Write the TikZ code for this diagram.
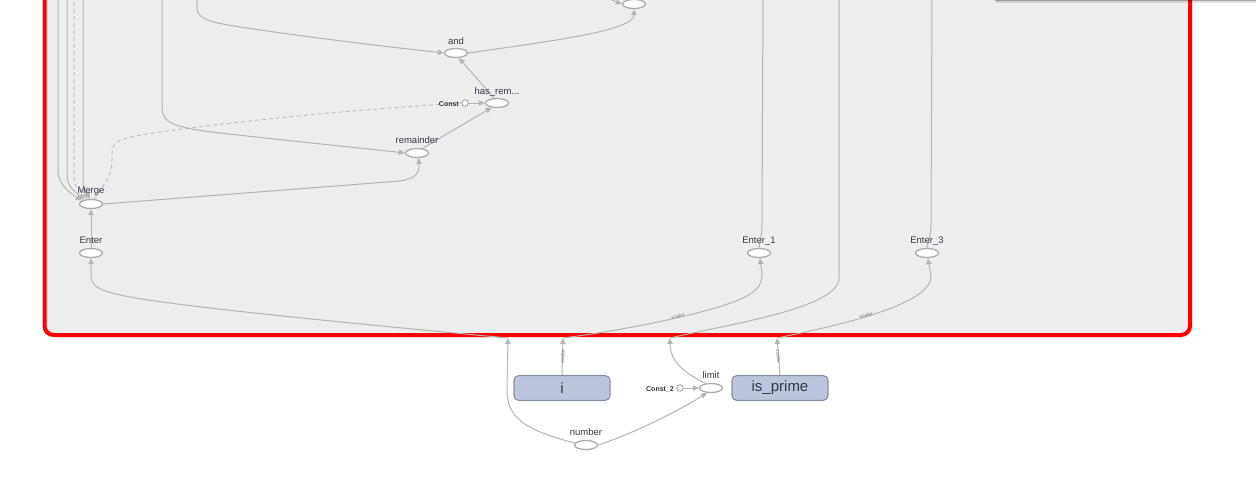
\documentclass[tikz,border=0pt]{standalone}
\usepackage{fontspec}
\setmainfont{Liberation Sans}
\usetikzlibrary{shapes.geometric,arrows.meta}
\definecolor{grpbg}{HTML}{EEEEEE}
\definecolor{edgec}{HTML}{B5B5B5}
\definecolor{opstroke}{HTML}{ABABAB}
\definecolor{labelc}{HTML}{343A48}
\definecolor{boxfill}{HTML}{BCC5DC}
\definecolor{boxdraw}{HTML}{8A91A5}
\definecolor{smallc}{HTML}{7A7A7A}
\pgfdeclarelayer{bg}
\pgfdeclarelayer{edges}
\pgfsetlayers{bg,edges,main}
\tikzset{
  op/.style={ellipse, draw=opstroke, fill=white, line width=1.3pt, minimum width=23pt, minimum height=9pt, inner sep=0pt},
  cst/.style={circle, draw=opstroke, fill=white, line width=1pt, minimum size=6.5pt, inner sep=0pt},
  lbl/.style={font=\fontsize{9.5}{10}\selectfont, text=labelc, inner sep=0pt, anchor=base},
  clbl/.style={font=\bfseries\fontsize{7}{8}\selectfont, text=black!80, inner sep=0pt, anchor=east},
  tbox/.style={rectangle, rounded corners=5pt, draw=boxdraw, fill=boxfill, line width=1.2pt, minimum width=96pt, minimum height=25pt, inner sep=0pt, font=\fontsize{15}{16}\selectfont, text=labelc},
  flow/.style={draw=edgec, line width=1pt, -{Triangle[length=6pt,width=5.5pt]}},
  plain/.style={draw=edgec, line width=1pt},
  ctrl/.style={draw=edgec!85, line width=1pt, dash pattern=on 4pt off 3pt},
  elbl/.style={font=\fontsize{5.2}{6}\selectfont, text=smallc, inner sep=0pt}
}
\begin{document}
\begin{tikzpicture}[x=1pt,y=-1pt]
\useasboundingbox (0,0) rectangle (1256,491);
\begin{pgfonlayer}{bg}
  \draw[red, line width=4pt, fill=grpbg, rounded corners=9pt] (44.5,-20) rectangle (1190,335);
\end{pgfonlayer}

% op nodes
\node[op] (top) at (634,4) {};
\node[op] (and) at (456,53) {};
\node[lbl] (andl) at (456,44.5) {and};
\node[op] (hasrem) at (497,103) {};
\node[lbl] (hasreml) at (497,94.5) {has\_rem...};
\node[cst] (const) at (465,103) {};
\node[clbl] (constl) at (459,104) {Const};
\node[op] (rem) at (417,153) {};
\node[lbl] (reml) at (417,143.5) {remainder};
\node[op] (merge) at (91,204) {};
\node[lbl] (mergel) at (91,193.5) {Merge};
\node[op] (enter) at (91,253) {};
\node[lbl] (enterl) at (91,243.5) {Enter};
\node[op] (enter1) at (759,253) {};
\node[lbl] (enter1l) at (759,243.5) {Enter\_1};
\node[op] (enter3) at (927,253) {};
\node[lbl] (enter3l) at (927,243.5) {Enter\_3};

\node[op] (number) at (586,445) {};
\node[lbl] (numberl) at (586,435.5) {number};
\node[op] (limit) at (711,388) {};
\node[lbl] (limitl) at (711,378.5) {limit};
\node[cst] (const2) at (680,388) {};
\node[clbl] (const2l) at (674,389) {Const\_2};
\node[tbox] (i) at (562,388) {i};
\node[tbox] (isprime) at (780,388) {is\_prime};

% free ends
\coordinate (lA) at (58,-5);
\coordinate (lB) at (67,-5);
\coordinate (lC) at (74,-5);
\coordinate (lD) at (83,-5);
\coordinate (lR) at (162,-5);
\coordinate (lAnd) at (197,-5);
\coordinate (lTop) at (605,-3);
\coordinate (r1) at (763,-5);
\coordinate (r2) at (839,-5);
\coordinate (r3) at (932,-5);
\coordinate (gin) at (508,338);
\coordinate (gi) at (563,338);
\coordinate (glim) at (670,338);
\coordinate (gp) at (777,338);

\begin{pgfonlayer}{edges}
  \draw[flow] (lA) -- (58,170) .. controls (58,186) and (72,194) .. (merge.160);
  \draw[flow] (lB) -- (67,175) .. controls (67,188) and (78,194) .. (merge.145);
  \draw[ctrl, -{Triangle[length=6pt,width=5.5pt]}] (lC) -- (74,178) .. controls (74,190) and (84,193) .. (merge.125);
  \draw[flow] (lD) -- (83,182) .. controls (83,192) and (88,195) .. (merge.105);
  \draw[ctrl] (merge.55) .. controls (102,186) and (112,178) .. (112,160) -- (112,152) .. controls (112,140) and (125,137) .. (160,132) .. controls (260,118) and (380,108) .. (const.west);
  \draw[flow] (lR) -- (162,108) .. controls (162,124) and (178,128) .. (220,133) .. controls (300,142) and (370,149) .. (rem.west);
  \draw[flow] (lAnd) -- (197,8) .. controls (197,20) and (215,23) .. (240,27) .. controls (320,39) and (390,47) .. (and.west);
  \draw[flow] (merge.east) -- (400,181) .. controls (416,179) and (420,172) .. (rem.-75);
  \draw[flow] (rem.40) -- (hasrem.220);
  \draw[flow] (const.east) -- (hasrem.west);
  \draw[flow] (hasrem.120) -- (and.-60);
  \draw[flow] (and.east) .. controls (560,40) and (634,30) .. (top.south);
  \draw[flow] (lTop) -- (top.west);
  \draw[flow] (enter.north) -- (merge.south);
  \draw[plain] (enter1.north) .. controls (760,240) and (762,236) .. (762,225) -- (r1);
  \draw[plain] (enter3.north) .. controls (928,240) and (931,236) .. (931,225) -- (r3);

  \draw[flow] (number.170) .. controls (525,430) and (507,418) .. (507,390) -- (gin);
  \draw[flow] (gin) .. controls (380,326) and (190,308) .. (130,297) .. controls (100,291) and (91,287) .. (91,275) -- (enter.south);
  \draw[flow] (i.north) -- node[elbl, sloped] (l1) {scalar} (gi);
  \draw[flow] (gi) .. controls (640,328) and (720,310) .. (745,297) .. controls (760,289) and (762,283) .. (762,272) -- (enter1.-80);
  \draw[flow] (limit.140) .. controls (682,372) and (670,360) .. (glim);
  \draw[plain] (glim) .. controls (730,324) and (839,308) .. (839,278) -- (r2);
  \draw[flow] (isprime.north) -- node[elbl, sloped] (l3) {scalar} (gp);
  \draw[flow] (gp) .. controls (830,327) and (932,306) .. (931,276) -- (enter3.-80);
  \draw[flow] (number.east) .. controls (635,433) and (680,410) .. (limit.-130);
  \draw[flow] (const2.east) -- (limit.west);
\end{pgfonlayer}
\node[elbl, rotate=15] (l2) at (678,316) {scalar};
\node[elbl, rotate=15] (l4) at (866,315) {scalar};

% top-right panel shadow
\fill[black, opacity=0.35] (995,-2) rectangle (1256,1);
\fill[black, opacity=0.12] (996,1) rectangle (1256,2.5);
\end{tikzpicture}
\end{document}
